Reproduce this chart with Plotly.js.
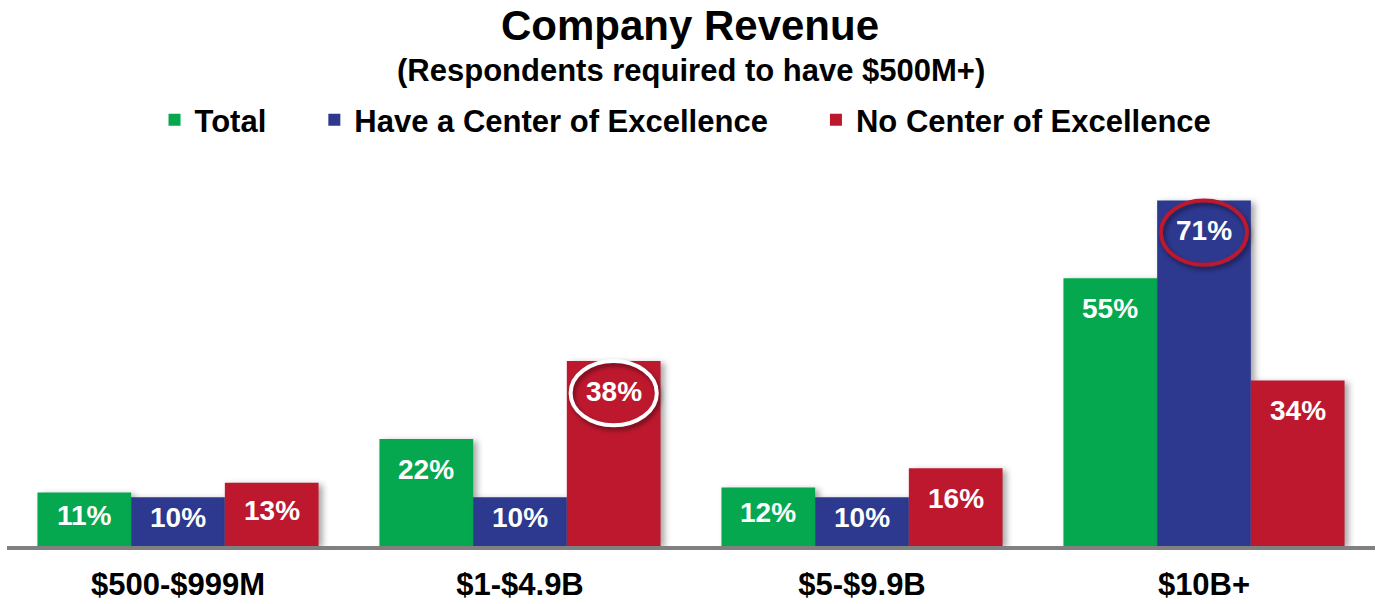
<!DOCTYPE html>
<html>
<head>
<meta charset="utf-8">
<script src="https://cdn.plot.ly/plotly-3.0.1.min.js"></script>
<style>
html,body{margin:0;padding:0;background:#fff;}
#chart{width:1380px;height:604px;}
.barlayer .point path{filter:drop-shadow(4px 2px 3px rgba(0,0,0,0.35));}
.shapelayer path{filter:drop-shadow(2px 3px 2px rgba(0,0,0,0.45));}
</style>
</head>
<body>
<div id="chart"></div>
<script>
const categories = ["$500-$999M", "$1-$4.9B", "$5-$9.9B", "$10B+"];
const seriesNames = ["Total", "Have a Center of Excellence", "No Center of Excellence"];
const totalValues = [11, 22, 12, 55];
const haveCoeValues = [10, 10, 10, 71];
const noCoeValues = [13, 38, 16, 34];
const seriesColors = ["#05A84F", "#2D388F", "#BD182E"];
// highlighted (circled) labels: [series index, category index, ring colour]
const highlights = [[2, 1, "#FFFFFF"], [1, 3, "#BD182E"]];
const titleText = "Company Revenue";
const subtitleText = "(Respondents required to have $500M+)";

const allValues = [totalValues, haveCoeValues, noCoeValues];
const FONT = "Liberation Sans, Arial, Helvetica, sans-serif";
const bargap = 0.178;
const nSeries = allValues.length;
const barW = (1 - bargap) / nSeries;
const PAD = "\u00a0\u00a0\u00a0\u00a0\u00a0";

const traces = allValues.map((vals, i) => ({
  type: "bar",
  name: seriesNames[i] + (i < nSeries - 1 ? PAD : ""),
  x: categories,
  y: vals,
  marker: {color: seriesColors[i], line: {width: 0}},
  hoverinfo: "skip"
}));

function labelY(v) { return Math.max(v - 6.2, v / 2 + 0.8); }

const annotations = [];
allValues.forEach((vals, i) => {
  vals.forEach((v, j) => {
    annotations.push({
      xref: "x", yref: "y",
      x: j + (i - (nSeries - 1) / 2) * barW,
      y: labelY(v),
      yanchor: "middle", xanchor: "center",
      text: v + "%",
      showarrow: false,
      font: {family: FONT, size: 28, color: "#FFFFFF", weight: 700}
    });
  });
});
annotations.push({
  xref: "paper", yref: "paper", x: 0.5, y: 1.304,
  xanchor: "center", yanchor: "middle", showarrow: false,
  text: subtitleText,
  font: {family: FONT, size: 31, color: "#000000", weight: 700}
});

const shapes = highlights.map(([i, j, col]) => {
  const cx = j + (i - (nSeries - 1) / 2) * barW;
  const cy = labelY(allValues[i][j]) - 0.4;
  return {
    type: "circle", xref: "x", yref: "y", layer: "above",
    x0: cx - 0.126, x1: cx + 0.126,
    y0: cy - 6.6, y1: cy + 6.6,
    line: {color: col, width: 4},
    fillcolor: "rgba(0,0,0,0)"
  };
});

const layout = {
  width: 1380, height: 604,
  margin: {l: 7, r: 5, t: 181, b: 58, pad: 0},
  paper_bgcolor: "#FFFFFF", plot_bgcolor: "#FFFFFF",
  barmode: "group", bargap: bargap, bargroupgap: 0,
  title: {
    text: titleText,
    x: 0.5, xanchor: "center",
    y: 0.958, yref: "container", yanchor: "middle",
    font: {family: FONT, size: 42, color: "#000000", weight: 700}
  },
  showlegend: true,
  legend: {
    orientation: "h",
    x: 0.496, xanchor: "center",
    y: 1.167, yanchor: "middle",
    font: {family: FONT, size: 31, color: "#000000", weight: 700},
    itemwidth: 30, tracegroupgap: 0,
    bgcolor: "rgba(0,0,0,0)"
  },
  xaxis: {
    type: "category",
    showline: true, linecolor: "#808080", linewidth: 4,
    showgrid: false, zeroline: false,
    ticks: "outside", ticklen: 8, tickcolor: "rgba(0,0,0,0)",
    tickfont: {family: FONT, size: 31, color: "#000000", weight: 700},
    fixedrange: true
  },
  yaxis: {
    range: [0, 75],
    visible: false, showgrid: false, zeroline: false,
    fixedrange: true
  },
  annotations: annotations,
  shapes: shapes
};

Plotly.newPlot("chart", traces, layout, {displayModeBar: false, staticPlot: true});
</script>
</body>
</html>
